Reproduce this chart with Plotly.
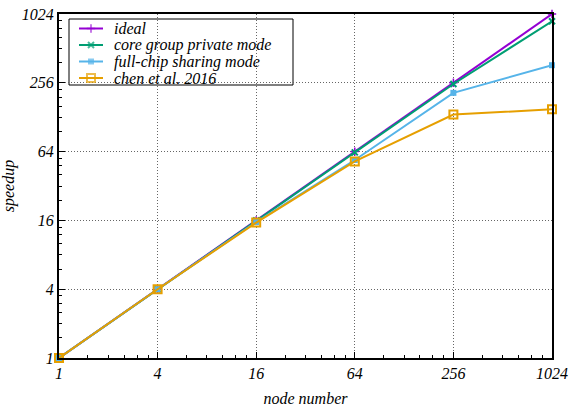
import math
import plotly.graph_objects as go

nodes = [1, 4, 16, 64, 256, 1024]
ideal = [1, 4, 16, 64, 256, 1024]
core_group_private = [1, 4, 16, 63, 250, 884]
full_chip_sharing = [1, 4, 15.5, 54, 209, 365]
chen_2016 = [1, 4, 15.3, 52.5, 135, 150]

tick_vals = [1, 4, 16, 64, 256, 1024]
tick_text = ["1", "4", "16", "64", "256", "1024"]
# minor ticks at half-steps of each base-4 interval
minor_vals = [b * k / 2 for b in [1, 4, 16, 64, 256] for k in range(3, 8)]

series = [
    ("ideal", ideal, "#9400d3", "cross-thin", 6, 1.5),
    ("core group private mode", core_group_private, "#009e73", "x-thin", 6, 2),
    ("full-chip sharing mode", full_chip_sharing, "#56b4e9", "square", 6, 0),
    ("chen et al. 2016", chen_2016, "#e69f00", "square-open", 8, 2),
]

serif = "Liberation Serif"
font16 = dict(family=serif, size=16, color="black", style="italic")

fig = go.Figure()
for name, vals, color, sym, size, mlw in series:
    fig.add_trace(go.Scatter(
        x=nodes, y=vals, name=name, mode="lines+markers", showlegend=False,
        cliponaxis=False,
        line=dict(color=color, width=2),
        marker=dict(symbol=sym, size=size, color=color,
                    line=dict(color=color, width=mlw)),
    ))

# Key drawn on an overlay axis measured in pixels from the plot's top-left corner
key_left, key_top, key_w, key_h = 10, 5, 224, 66
row_h = 16.5
for i, (name, vals, color, sym, size, mlw) in enumerate(series):
    ry = key_top + 9.5 + i * row_h
    fig.add_trace(go.Scatter(
        x=[key_left + 10, key_left + 22, key_left + 34], y=[ry, ry, ry],
        xaxis="x2", yaxis="y2", mode="lines+markers", showlegend=False,
        hoverinfo="skip",
        line=dict(color=color, width=2),
        marker=dict(symbol=sym, size=[0, size, 0], color=color,
                    line=dict(color=color, width=mlw)),
    ))
    fig.add_annotation(x=key_left + 43, y=ry, xref="x2", yref="y2", text=name,
                       showarrow=False, xanchor="left", yanchor="middle", font=font16)
fig.add_shape(type="rect", xref="x2", yref="y2",
              x0=key_left, x1=key_left + key_w, y0=key_top, y1=key_top + key_h,
              line=dict(color="black", width=1), fillcolor="white", layer="below")

axis_common = dict(
    type="log",
    range=[0, math.log10(1024)],
    tickmode="array",
    tickvals=tick_vals,
    ticktext=tick_text,
    ticks="inside",
    ticklen=6,
    tickwidth=1,
    tickcolor="black",
    showline=True,
    linecolor="black",
    linewidth=2,
    mirror=True,
    showgrid=True,
    gridcolor="#666666",
    gridwidth=1,
    griddash="1px,2px",
    zeroline=False,
    automargin=False,
    tickfont=font16,
    minor=dict(tickmode="array", tickvals=minor_vals, ticks="inside",
               ticklen=3, tickcolor="black", showgrid=False),
)

fig.update_xaxes(**axis_common, title=dict(text="node number", standoff=12, font=font16))
fig.update_yaxes(**axis_common, title=dict(text="speedup", standoff=6, font=font16))

fig.update_layout(
    width=570, height=412,
    margin=dict(l=59, r=18, t=14, b=54),
    plot_bgcolor="white",
    paper_bgcolor="white",
    showlegend=False,
    xaxis2=dict(overlaying="x", range=[0, 493], visible=False, fixedrange=True),
    yaxis2=dict(overlaying="y", range=[344, 0], visible=False, fixedrange=True),
)

fig.write_html("out.html")
